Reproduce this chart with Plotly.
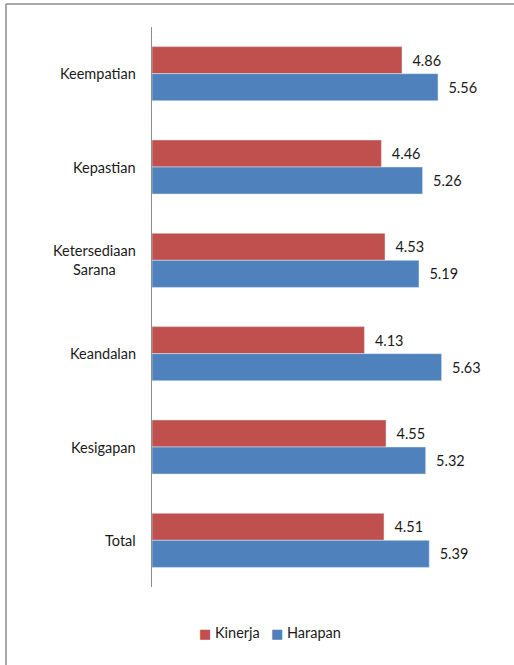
import plotly.graph_objects as go

categories = ["Keempatian", "Kepastian", "Ketersediaan<br>Sarana", "Keandalan", "Kesigapan", "Total"]
series_names = ["Kinerja", "Harapan"]
kinerja = [4.86, 4.46, 4.53, 4.13, 4.55, 4.51]
harapan = [5.56, 5.26, 5.19, 5.63, 5.32, 5.39]

W, H = 514, 665
L, R, T, B = 152, 0, 27, 78
pw, ph = W - L - R, H - T - B

def px_x(px):
    return (px - L) / pw

def px_y(py):
    return (H - B - py) / ph

FONT = "Lato"
FS = 14.5
TXT = "#1a1a1a"
RED = "#C0504D"
BLUE = "#4F81BD"
colors = [RED, BLUE]

fig = go.Figure()
for name, vals, col in zip(series_names, [kinerja, harapan], colors):
    fig.add_trace(go.Bar(
        y=categories, x=vals, name=name, orientation="h",
        marker=dict(color=col),
        text=vals, texttemplate="  %{x:.2f}", textposition="outside",
        textfont=dict(family=FONT, size=FS, color=TXT), cliponaxis=False,
        showlegend=False,
    ))

# category labels, centred line by line
annotations = []
for c in categories:
    annotations.append(dict(
        x=px_x(138), xref="paper", y=c, yref="y",
        text=c, showarrow=False, xanchor="right", yanchor="middle", align="center",
        font=dict(family=FONT, size=FS, color=TXT),
    ))

# compact legend: coloured square + series name
legend_text = "   ".join(
    f"<span style='color:{col}; font-family:DejaVu Sans; font-size:13px'>■</span> {name}"
    for name, col in zip(series_names, colors)
)
annotations.append(dict(
    x=px_x(270), xref="paper", y=px_y(632), yref="paper",
    text=legend_text, showarrow=False, xanchor="center", yanchor="middle",
    font=dict(family=FONT, size=FS, color=TXT),
))

# outer frame (top and left edges)
shapes = [
    dict(type="line", xref="paper", yref="paper",
         x0=px_x(6), x1=px_x(520), y0=px_y(4), y1=px_y(4),
         line=dict(color="#8c8c8c", width=1.5)),
    dict(type="line", xref="paper", yref="paper",
         x0=px_x(6), x1=px_x(6), y0=px_y(4), y1=px_y(670),
         line=dict(color="#8c8c8c", width=1.5)),
]

fig.update_layout(
    width=W, height=H,
    margin=dict(l=L, r=R, t=T, b=B, autoexpand=False),
    paper_bgcolor="white", plot_bgcolor="white",
    barmode="group", bargap=0.42, bargroupgap=0,
    font=dict(family=FONT, size=FS, color=TXT),
    xaxis=dict(range=[0, pw / 51.44], visible=False, showgrid=False, zeroline=False),
    yaxis=dict(autorange="reversed", showticklabels=False, ticks="",
               showline=True, linecolor="#8c8c8c", linewidth=1.2,
               showgrid=False, zeroline=False),
    annotations=annotations,
    shapes=shapes,
    showlegend=False,
)

fig.write_html("out.html")
